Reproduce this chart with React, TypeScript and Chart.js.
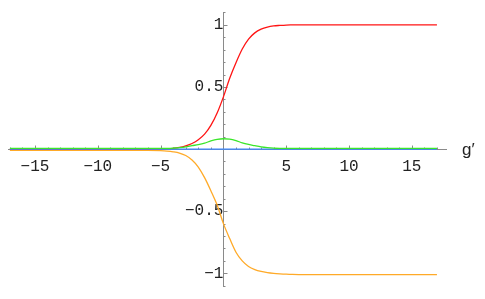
import React, { useEffect, useRef } from "react";
import { Chart, registerables } from "chart.js";

Chart.register(...registerables);

const xs = [-17, -10, -6, -5, -4.5, -4, -3.5, -3, -2.5, -2, -1.5, -1, -0.5, 0, 0.5, 1, 1.5, 2, 2.5, 3, 3.5, 4, 4.5, 5, 5.5, 6, 7, 10, 17];
const redValues = [0, 0, 0, 0.001, 0.003, 0.006, 0.013, 0.026, 0.045, 0.075, 0.12, 0.19, 0.29, 0.42, 0.57, 0.695, 0.805, 0.885, 0.935, 0.965, 0.982, 0.991, 0.995, 0.998, 0.999, 1, 1, 1, 1];
const orangeValues = [-0.01, -0.01, -0.011, -0.013, -0.016, -0.022, -0.032, -0.052, -0.088, -0.145, -0.23, -0.335, -0.45, -0.6, -0.72, -0.83, -0.9, -0.945, -0.97, -0.985, -0.994, -1.0, -1.004, -1.007, -1.009, -1.01, -1.01, -1.01, -1.01];
const greenValues = [0.005, 0.005, 0.005, 0.005, 0.006, 0.008, 0.011, 0.017, 0.027, 0.036, 0.048, 0.065, 0.078, 0.083, 0.08, 0.068, 0.05, 0.037, 0.027, 0.018, 0.012, 0.008, 0.006, 0.005, 0.005, 0.005, 0.005, 0.005, 0.005];
const blueValues = [0, 0, 0, 0, 0, 0, 0, 0, 0, 0, 0, 0, 0, 0, 0, 0, 0, 0, 0, 0, 0, 0, 0, 0, 0, 0, 0, 0, 0];

const xTickValues = [-15, -10, -5, 5, 10, 15];
const yTickValues = [-1, -0.5, 0.5, 1];
const xTickLabels = ["\u221215", "\u221210", "\u22125", "5", "10", "15"];
const yTickLabels = ["\u22121", "\u22120.5", "0.5", "1"];
const xAxisLabel = "g\u2032";

const FONT = "Liberation Mono";

const toPts = (vals: number[]) => xs.map((x, i) => ({ x, y: vals[i] }));

const zeroFit = (s: any, horizontal: boolean) => {
  if (horizontal) s.height = 0; else s.width = 0;
  s.paddingTop = 0;
  s.paddingBottom = 0;
  s.paddingLeft = 0;
  s.paddingRight = 0;
};

const axesPlugin = {
  id: "mmaAxes",
  beforeDatasetsDraw(chart: any) {
    const { ctx, chartArea, scales } = chart;
    const sx = scales.x;
    const sy = scales.y;
    const y0 = Math.round(sy.getPixelForValue(0)) + 0.5;
    const x0 = Math.round(sx.getPixelForValue(0)) + 0.5;
    ctx.save();
    ctx.strokeStyle = "#8a8a8a";
    ctx.lineWidth = 1;
    ctx.beginPath();
    ctx.moveTo(chartArea.left, y0);
    ctx.lineTo(chartArea.right, y0);
    ctx.moveTo(x0, chartArea.top);
    ctx.lineTo(x0, chartArea.bottom);
    for (let v = -17; v <= 17; v++) {
      if (v === 0) continue;
      const px = Math.round(sx.getPixelForValue(v)) + 0.5;
      const len = v % 5 === 0 ? 4 : 2;
      ctx.moveTo(px, y0);
      ctx.lineTo(px, y0 - len);
    }
    for (let k = -11; k <= 11; k++) {
      if (k === 0) continue;
      const v = k / 10;
      const py = Math.round(sy.getPixelForValue(v)) + 0.5;
      const len = k % 5 === 0 ? 4 : 2;
      ctx.moveTo(x0, py);
      ctx.lineTo(x0 + len, py);
    }
    ctx.stroke();
    ctx.restore();
  },
  afterDraw(chart: any) {
    const { ctx, scales } = chart;
    const y0 = scales.y.getPixelForValue(0);
    ctx.save();
    ctx.fillStyle = "#222";
    ctx.font = `17px "Liberation Sans"`;
    ctx.textAlign = "left";
    ctx.textBaseline = "alphabetic";
    ctx.fillText(xAxisLabel, 462, y0 + 6);
    ctx.restore();
  },
};

export default function App() {
  const ref = useRef<HTMLCanvasElement | null>(null);
  useEffect(() => {
    if (!ref.current) return;
    const common = { pointRadius: 0, borderWidth: 1.3, cubicInterpolationMode: "monotone" as const, fill: false };
    const chart = new Chart(ref.current, {
      type: "line",
      data: {
        datasets: [
          { label: "green", data: toPts(greenValues), borderColor: "#3ae62a", ...common },
          { label: "blue", data: toPts(blueValues), borderColor: "#3a86ff", ...common },
          { label: "red", data: toPts(redValues), borderColor: "#ff1414", ...common },
          { label: "orange", data: toPts(orangeValues), borderColor: "#ffaa28", ...common },
        ],
      },
      options: {
        animation: false,
        responsive: false,
        layout: { padding: { left: 8, right: 38, top: 12, bottom: 12 } },
        plugins: { legend: { display: false }, tooltip: { enabled: false } },
        scales: {
          x: {
            type: "linear",
            min: -17.15,
            max: 17.8,
            position: { y: 0 } as any,
            grid: { display: false },
            border: { display: false },
            afterFit: (s: any) => zeroFit(s, true),
            afterBuildTicks: (s: any) => { s.ticks = xTickValues.map((v) => ({ value: v })); },
            ticks: {
              autoSkip: false,
              maxRotation: 0,
              padding: 0,
              color: "#222",
              font: { family: FONT, size: 16 },
              callback: (v: any) => xTickLabels[xTickValues.indexOf(Number(v))] ?? "",
            },
          },
          y: {
            type: "linear",
            min: -1.11,
            max: 1.103,
            position: { x: 0 } as any,
            grid: { display: false },
            border: { display: false },
            afterFit: (s: any) => zeroFit(s, false),
            afterBuildTicks: (s: any) => { s.ticks = yTickValues.map((v) => ({ value: v })); },
            ticks: {
              autoSkip: false,
              padding: 8,
              color: "#222",
              font: { family: FONT, size: 16 },
              callback: (v: any) => yTickLabels[yTickValues.indexOf(Number(v))] ?? "",
            },
          },
        },
      },
      plugins: [axesPlugin],
    });
    return () => chart.destroy();
  }, []);
  return (
    <div style={{ position: "fixed", left: 0, top: 0, width: 485, height: 299, background: "#fff" }}>
      <canvas ref={ref} width={485} height={299} style={{ display: "block", width: 485, height: 299 }} />
    </div>
  );
}
